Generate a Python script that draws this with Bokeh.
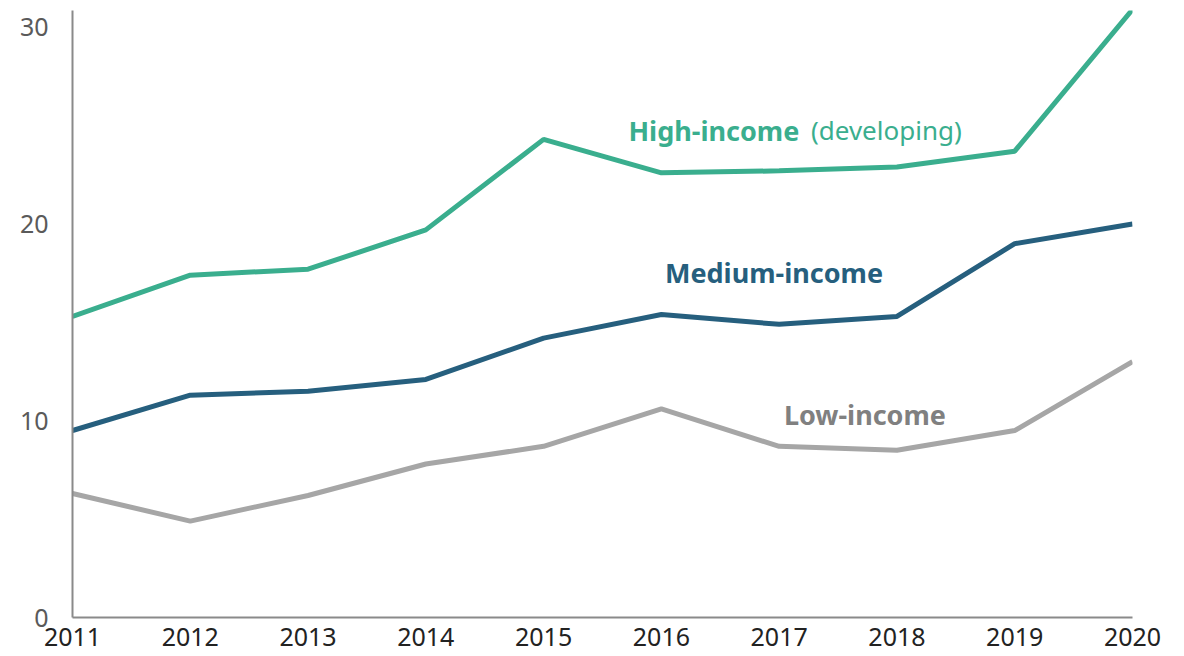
from bokeh.plotting import figure
from bokeh.embed import file_html
from bokeh.resources import INLINE
from bokeh.models import Range1d, FixedTicker
from bokeh.core.properties import value

years = [2011, 2012, 2013, 2014, 2015, 2016, 2017, 2018, 2019, 2020]
high_income = [15.3, 17.4, 17.7, 19.7, 24.3, 22.6, 22.7, 22.9, 23.7, 30.9]
medium_income = [9.5, 11.3, 11.5, 12.1, 14.2, 15.4, 14.9, 15.3, 19.0, 20.0]
low_income = [6.3, 4.9, 6.2, 7.8, 8.7, 10.6, 8.7, 8.5, 9.5, 13.0]
y_ticks = [0, 10, 20, 30]

HIGH_C = "#3aae8e"
MED_C = "#265f7e"
LOW_C = "#a6a6a6"
FONT = "Noto Sans"

p = figure(width=1176, height=652, output_backend="svg", toolbar_location=None,
           x_range=Range1d(2011, 2020), y_range=Range1d(0, 30.85),
           min_border_left=72, min_border_right=44, min_border_top=10, min_border_bottom=35)
p.outline_line_color = None
p.xgrid.visible = False
p.ygrid.visible = False
p.background_fill_color = "white"

p.line(years, high_income, line_color=HIGH_C, line_width=5)
p.line(years, medium_income, line_color=MED_C, line_width=5)
p.line(years, low_income, line_color=LOW_C, line_width=5)

p.xaxis.ticker = FixedTicker(ticks=years)
p.yaxis.ticker = FixedTicker(ticks=y_ticks)
for ax in (p.xaxis, p.yaxis):
    ax.axis_line_color = "#8a8a8a"
    ax.axis_line_width = 2
    ax.major_tick_line_color = None
    ax.minor_tick_line_color = None
    ax.major_label_text_font = FONT
    ax.major_label_text_font_size = "25px"
p.xaxis.major_label_text_color = "#222222"
p.yaxis.major_label_text_color = "#5a5a5a"
p.xaxis.major_label_standoff = 4
p.yaxis.major_label_standoff = 18

p.text(x=[2015.72], y=[24.76], text=["High-income"], text_color=HIGH_C,
       text_font=value(FONT), text_font_size="27px", text_font_style="bold",
       text_baseline="middle", text_align="left")
p.text(x=[2017.27], y=[24.76], text=["(developing)"], text_color=HIGH_C,
       text_font=value(FONT), text_font_size="26px", text_font_style="normal",
       text_baseline="middle", text_align="left")
p.text(x=[2016.03], y=[17.54], text=["Medium-income"], text_color=MED_C,
       text_font=value(FONT), text_font_size="27px", text_font_style="bold",
       text_baseline="middle", text_align="left")
p.text(x=[2017.04], y=[10.32], text=["Low-income"], text_color="#808080",
       text_font=value(FONT), text_font_size="27px", text_font_style="bold",
       text_baseline="middle", text_align="left")

open("out.html", "w").write(file_html(p, INLINE))
